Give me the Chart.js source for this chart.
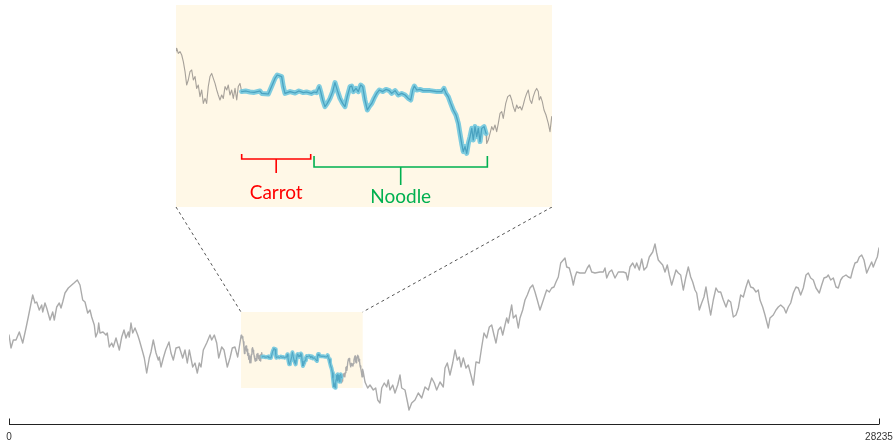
<!DOCTYPE html>
<html>
<head>
<meta charset="utf-8">
<title>Walk with zoom</title>
<script src="https://cdn.jsdelivr.net/npm/chart.js@4.4.0/dist/chart.umd.min.js"></script>
<style>
  html, body { margin: 0; padding: 0; background: #ffffff; }
  #wrap { position: relative; width: 893px; height: 442px; }
  #mainChart { position: absolute; left: 0; top: 0; }
  #zoomBox { position: absolute; left: 176px; top: 5px; width: 376px; height: 202px; background: #fff8e7; }
  #zoomChart { display: block; }
</style>
</head>
<body>
<div id="wrap">
  <canvas id="mainChart" width="893" height="442"></canvas>
  <div id="zoomBox"><canvas id="zoomChart" width="376" height="202"></canvas></div>
</div>
<script>
// sample positions along the series (0 .. 28235)
const steps = [
  0, 65, 140, 227, 334, 445, 552, 626, 704, 769, 844, 899, 983, 1061, 1094, 1168, 1223, 1331, 1418, 1470,
  1548, 1632, 1688, 1743, 1817, 1925, 2035, 2110, 2217, 2304, 2392, 2467, 2554, 2629, 2684, 2768, 2814, 2879, 2911, 2953,
  3051, 3148, 3190, 3255, 3333, 3385, 3473, 3580, 3658, 3732, 3797, 3872, 3904, 3959, 4015, 4089, 4177, 4229, 4339, 4391,
  4469, 4553, 4608, 4683, 4771, 4845, 4878, 4933, 5008, 5085, 5193, 5257, 5332, 5420, 5527, 5637, 5712, 5787, 5852, 5962,
  6036, 6111, 6176, 6231, 6306, 6416, 6523, 6578, 6663, 6741, 6806, 6903, 6978, 7085, 7172, 7247, 7334, 7422,
  7536, 7553, 7571, 7589, 7606, 7624, 7641, 7658, 7676, 7694, 7711, 7729, 7746, 7763, 7781, 7799, 7816, 7834, 7851, 7868,
  7886, 7904, 7921, 7939, 7957, 7973, 7991, 8009, 8026, 8044, 8062, 8078, 8096, 8114, 8131, 8149, 8167, 8183, 8201, 8219,
  8260, 8306, 8350, 8411, 8429, 8499, 8533, 8569, 8593, 8639, 8656, 8674, 8727, 8780, 8820, 8866, 8900, 8950, 8980, 9007,
  9034, 9049, 9070, 9094, 9118, 9147, 9175, 9199, 9228, 9252, 9280, 9304, 9328, 9357, 9375, 9392, 9420, 9444, 9469, 9490,
  9514, 9539, 9560, 9585, 9609, 9637, 9665, 9700, 9735, 9770, 9795, 9830, 9864, 9900, 9935, 9969, 9995, 10016, 10033, 10058,
  10092, 10127, 10197, 10268, 10320, 10344, 10365, 10389, 10415, 10442, 10470, 10495, 10512, 10530, 10547, 10565, 10583, 10600, 10618, 10636,
  10652, 10670, 10688, 10705, 10723, 10741, 10765, 10786, 10793, 10810, 10828, 10846, 10862, 10880, 10898, 10915, 10933, 10951, 10967, 10993,
  11014, 11038, 11056, 11072, 11091, 11108, 11125, 11143, 11161, 11177, 11195, 11213, 11230, 11248, 11266, 11282, 11300, 11318, 11335, 11345,
  11360, 11377, 11395, 11416, 11440, 11458, 11476,
  11498, 11554, 11641, 11716, 11823, 11901, 11966, 12040, 12096, 12180, 12258, 12310, 12365, 12453, 12527, 12615, 12690, 12744, 12852, 12939,
  12982, 13069, 13176, 13283, 13394, 13501, 13608, 13718, 13803, 13880, 13988, 14095, 14150, 14224, 14312, 14400, 14475, 14549, 14614, 14669,
  14744, 14831, 14906, 15016, 15069, 15156, 15263, 15341, 15416, 15503, 15588, 15665, 15740, 15805, 15880, 15958, 16023, 16097, 16152, 16204,
  16314, 16367, 16454, 16529, 16584, 16671, 16746, 16821, 16909, 16996, 17071, 17145, 17233, 17320, 17395, 17450, 17535, 17613, 17687, 17752,
  17827, 17905, 17989, 18044, 18100, 18184, 18262, 18314, 18369, 18424, 18531, 18693, 18768, 18833, 18911, 19018, 19180, 19287, 19343, 19398,
  19482, 19560, 19667, 19774, 19937, 20024, 20079, 20154, 20242, 20316, 20371, 20456, 20534, 20608, 20696, 20780, 20891, 20965, 21020, 21072,
  21128, 21215, 21290, 21364, 21429, 21507, 21582, 21647, 21722, 21799, 21884, 21961, 22046, 22124, 22189, 22263, 22318, 22402, 22480, 22555,
  22620, 22694, 22773, 22857, 22945, 23020, 23097, 23182, 23270, 23344, 23422, 23507, 23594, 23669, 23746, 23831, 23919, 23993, 24071, 24155,
  24243, 24317, 24373, 24460, 24535, 24642, 24697, 24804, 24892, 24967, 25045, 25152, 25217, 25291, 25369, 25454, 25541, 25616, 25693, 25778,
  25866, 25940, 26018, 26103, 26191, 26298, 26375, 26450, 26538, 26590, 26668, 26752, 26840, 26914, 26992, 27057, 27164, 27239, 27317, 27382,
  27456, 27531, 27596, 27673, 27748, 27836, 27920, 27997, 28049, 28137, 28180, 28235
];

// series level at each sample
const level = [
  83, 70, 78, 78, 86, 75, 90, 101, 113, 123, 115, 116, 108, 113, 106, 115, 110, 98, 106, 98,
  111, 115, 110, 116, 125, 130, 133, 135, 138, 133, 118, 116, 105, 108, 101, 93, 81, 86, 95, 85,
  86, 83, 85, 71, 75, 71, 80, 68, 81, 88, 80, 86, 81, 95, 85, 90, 83, 78, 66, 60,
  45, 60, 66, 78, 65, 58, 61, 51, 60, 68, 76, 65, 58, 70, 71, 60, 68, 55, 68, 51,
  55, 45, 55, 51, 68, 75, 83, 78, 83, 75, 60, 71, 68, 51, 60, 70, 71, 61,
  82.9, 80.3, 81.2, 79.5, 76.2, 71.2, 64.5, 67, 71.2, 72, 67, 68.7, 62.8, 64.5, 58.7, 62, 55.3, 57.8, 55.3, 63.7,
  68.7, 70.3, 67.8, 65.3, 62, 59.5, 57, 59.5, 57.8, 63.7, 62, 64.5, 59.5, 62, 57.8, 62.8, 57, 63.7, 65.3, 61.2,
  61.5, 61, 60.8, 61.5, 60.3, 60, 63.7, 67.8, 69.5, 68.7, 63.7, 60.3, 61.2, 60.5, 61.5, 60.7, 61, 60.3, 61, 60.7,
  63.7, 61.2, 57, 53.7, 55.3, 57.8, 61.2, 65.7, 61.2, 57.8, 55.3, 53.7, 58.7, 63.7, 64, 61.2, 62.8, 61.2, 64.5, 63.7,
  57, 52, 53.7, 55.3, 57.8, 60.3, 62, 61.2, 62.3, 61.7, 60.3, 61.7, 59.5, 60.3, 59.5, 57.8, 57, 62, 64, 62,
  62.3, 61.7, 61.7, 61.2, 61.2, 62.8, 60.3, 58.7, 55.3, 52, 49.5, 45.3, 40.3, 35.3, 31.2, 33.7, 30.3, 35.3, 38.7, 42.8,
  37, 43.7, 38.7, 42.8, 36.2, 42.8, 43.7, 40.3, 35.3, 37, 40.3, 43.7, 42, 44.5, 41.2, 45.3, 50.3, 51.2, 47.8, 55.3,
  58.7, 59.5, 57, 53.7, 51.2, 54.5, 52.8, 53.7, 52, 54.5, 57.8, 60.3, 62, 57, 55.3, 58.7, 61.2, 62.8, 61.2, 57,
  58.7, 56.2, 52, 49.5, 45.3, 41.2, 48.7,
  46, 36, 30, 33, 28, 30, 18, 15, 30, 35, 31, 38, 28, 33, 25, 33, 43, 30, 28, 15,
  8, 15, 18, 25, 20, 31, 28, 40, 35, 28, 36, 31, 50, 55, 43, 55, 68, 58, 61, 51,
  60, 50, 53, 40, 33, 56, 55, 71, 85, 80, 91, 93, 83, 75, 88, 91, 83, 93, 100, 95,
  113, 100, 103, 90, 100, 108, 118, 123, 130, 133, 126, 118, 108, 116, 123, 128, 126, 130, 131, 136,
  141, 155, 158, 160, 151, 150, 141, 133, 141, 146, 145, 145, 150, 153, 146, 145, 146, 146, 150, 140,
  146, 148, 140, 146, 146, 145, 138, 151, 155, 150, 155, 148, 159, 148, 151, 161, 166, 174, 165, 158,
  156, 153, 146, 153, 143, 133, 141, 148, 145, 143, 128, 140, 151, 141, 136, 128, 125, 108, 115, 121,
  131, 116, 103, 118, 130, 126, 126, 118, 111, 118, 116, 101, 103, 110, 123, 121, 131, 138, 131, 130,
  126, 128, 118, 111, 103, 90, 100, 103, 108, 111, 113, 110, 105, 111, 115, 125, 131, 130, 123, 130,
  143, 145, 140, 138, 130, 125, 133, 140, 141, 143, 138, 140, 131, 130, 138, 141, 143, 141, 140, 148,
  155, 156, 161, 163, 158, 145, 151, 156, 151, 158, 161, 170
];

const axisTicks = [0, 28235];
const zoomWindow = [7529, 11479];   // x range magnified in the inset
const zoomLevels = [3.5, 104.5];    // y range of the inset
const boxLevels = [30, 106];        // y extent of the marked window on the main plot
const carrotSpan = [8219, 8944];
const noodleSpan = [8979, 10800];
const blueSpan = [8219, 10790];

const walk = steps.map((s, i) => ({ x: s, y: level[i] }));
const picked = walk.filter(p => p.x >= blueSpan[0] && p.x <= blueSpan[1]);

const cream = '#fff8e7';

function lineSet(data, color, width) {
  return {
    data: data,
    borderColor: color,
    borderWidth: width,
    pointRadius: 0,
    tension: 0,
    fill: false,
    borderJoinStyle: 'round',
    borderCapStyle: 'round'
  };
}

// cream window behind the lines + bottom axis + connectors to the inset
const mainDecor = {
  id: 'mainDecor',
  beforeDatasetsDraw(chart) {
    const { ctx, scales: { x, y } } = chart;
    const x0 = x.getPixelForValue(zoomWindow[0]);
    const x1 = x.getPixelForValue(zoomWindow[1]);
    const y0 = y.getPixelForValue(boxLevels[1]);
    const y1 = y.getPixelForValue(boxLevels[0]);
    ctx.save();
    ctx.fillStyle = cream;
    ctx.fillRect(x0, y0, x1 - x0, y1 - y0);
    ctx.restore();
  },
  afterDraw(chart) {
    const { ctx, chartArea, scales: { x, y } } = chart;
    const ay = Math.round(chartArea.bottom) + 0.5;
    const xa = x.getPixelForValue(axisTicks[0]);
    const xb = x.getPixelForValue(axisTicks[1]);
    ctx.save();
    ctx.strokeStyle = '#222';
    ctx.lineWidth = 1;
    ctx.beginPath();
    ctx.moveTo(xa, ay);
    ctx.lineTo(xb, ay);
    axisTicks.forEach(t => {
      const px = Math.round(x.getPixelForValue(t)) + 0.5;
      ctx.moveTo(px, ay);
      ctx.lineTo(px, ay - 6);
    });
    ctx.stroke();

    ctx.fillStyle = '#333';
    ctx.font = '10px "Liberation Sans", Arial, sans-serif';
    ctx.textAlign = 'center';
    ctx.textBaseline = 'alphabetic';
    axisTicks.forEach(t => {
      ctx.fillText(String(t), x.getPixelForValue(t), 440);
    });

    // dashed connectors from the window corners up to the inset
    const box = document.getElementById('zoomBox');
    const bx0 = box.offsetLeft;
    const bx1 = box.offsetLeft + box.offsetWidth;
    const by = box.offsetTop + box.offsetHeight;
    const wx0 = x.getPixelForValue(zoomWindow[0]);
    const wx1 = x.getPixelForValue(zoomWindow[1]);
    const wy = y.getPixelForValue(boxLevels[1]);
    ctx.strokeStyle = '#555';
    ctx.setLineDash([3, 3]);
    ctx.beginPath();
    ctx.moveTo(bx0, by);
    ctx.lineTo(wx0, wy);
    ctx.moveTo(bx1, by);
    ctx.lineTo(wx1, wy);
    ctx.stroke();
    ctx.restore();
  }
};

new Chart(document.getElementById('mainChart'), {
  type: 'line',
  data: {
    datasets: [
      lineSet(picked, '#4fa6c4', 1),
      lineSet(picked, 'rgba(112,198,222,0.9)', 4),
      lineSet(walk, '#ababab', 1.4)
    ]
  },
  options: {
    responsive: false,
    animation: false,
    layout: { padding: { left: 9, right: 14, top: 0, bottom: 18 } },
    scales: {
      x: { type: 'linear', display: false, min: axisTicks[0], max: axisTicks[1] },
      y: { display: false, min: -6, max: 418 }
    },
    plugins: { legend: { display: false }, tooltip: { enabled: false } }
  },
  plugins: [mainDecor]
});

// brackets under the highlighted stretch of the inset
const brackets = [
  { text: 'Carrot', span: carrotSpan, color: '#ff0000', y: 154, arm: 5, stem: 14, textY: 194 },
  { text: 'Noodle', span: noodleSpan, color: '#00b050', y: 162, arm: 11, stem: 18, textY: 198 }
];

const bracketLabels = {
  id: 'bracketLabels',
  afterDraw(chart) {
    const { ctx, scales: { x } } = chart;
    ctx.save();
    ctx.lineWidth = 1.6;
    ctx.lineJoin = 'miter';
    brackets.forEach(b => {
      const x0 = x.getPixelForValue(b.span[0]);
      const x1 = x.getPixelForValue(b.span[1]);
      const xm = (x0 + x1) / 2;
      ctx.strokeStyle = b.color;
      ctx.beginPath();
      ctx.moveTo(x0, b.y - b.arm);
      ctx.lineTo(x0, b.y);
      ctx.lineTo(x1, b.y);
      ctx.lineTo(x1, b.y - b.arm);
      ctx.moveTo(xm, b.y);
      ctx.lineTo(xm, b.y + b.stem);
      ctx.stroke();
      ctx.fillStyle = b.color;
      ctx.font = '19px Lato, "Open Sans", sans-serif';
      ctx.textAlign = 'center';
      ctx.textBaseline = 'alphabetic';
      ctx.fillText(b.text, xm, b.textY);
    });
    ctx.restore();
  }
};

new Chart(document.getElementById('zoomChart'), {
  type: 'line',
  data: {
    datasets: [
      lineSet(picked, '#4aa2c0', 1.2),
      lineSet(picked, 'rgba(112,198,222,0.9)', 5),
      lineSet(walk, 'rgba(150,146,140,0.85)', 1.1)
    ]
  },
  options: {
    responsive: false,
    animation: false,
    layout: { padding: 0 },
    scales: {
      x: { type: 'linear', display: false, min: zoomWindow[0], max: zoomWindow[1] },
      y: { display: false, min: zoomLevels[0], max: zoomLevels[1] }
    },
    plugins: { legend: { display: false }, tooltip: { enabled: false } }
  },
  plugins: [bracketLabels]
});
</script>
</body>
</html>
